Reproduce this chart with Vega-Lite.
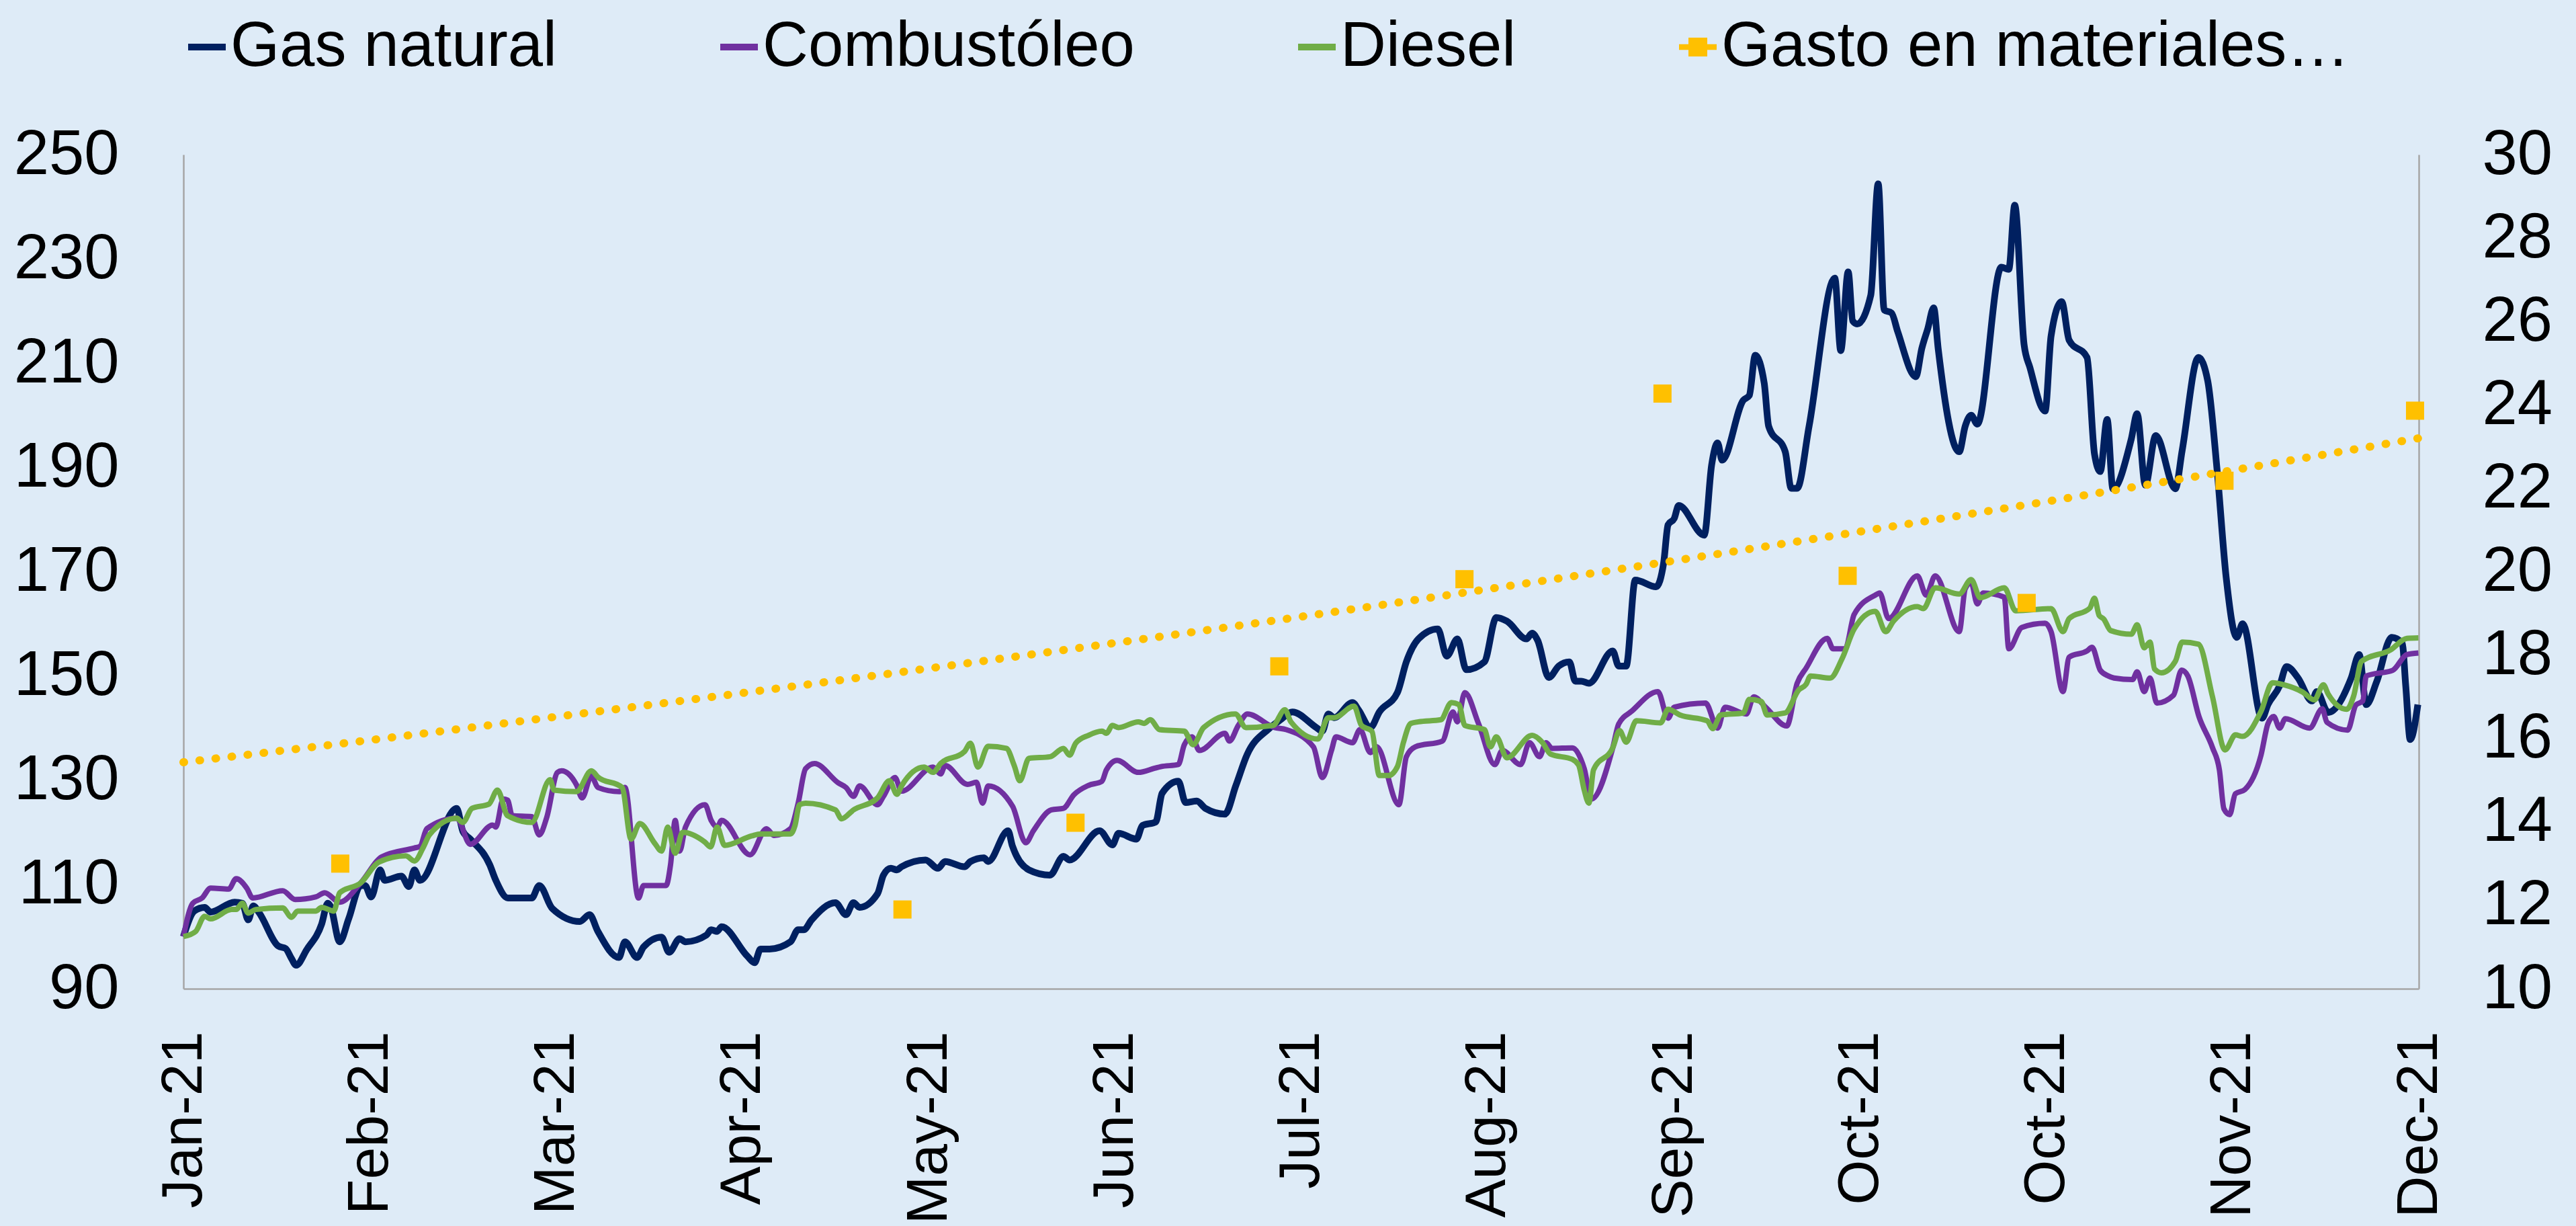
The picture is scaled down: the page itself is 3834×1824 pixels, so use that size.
{
"$schema": "https://vega.github.io/schema/vega-lite/v6.json",
"width": 3327, "height": 1241,
"autosize": {"type": "none"},
"padding": {"left": 273, "top": 230, "right": 234, "bottom": 353},
"background": "#DEEBF7",
"config": {"view": {"stroke": null}, "font": "Liberation Sans",
  "axis": {"domainColor": "#A6A6A6", "domainWidth": 2.5, "ticks": false, "tickSize": 0, "grid": false, "labelFont": "Liberation Sans", "labelFontSize": 94, "labelColor": "#000000", "labelLimit": 1000}},
"datasets": {
"lineas": [
{"serie":"Gas natural","t":0,"v":100},{"serie":"Gas natural","t":0.058,"v":104.9},{"serie":"Gas natural","t":0.114,"v":105.6},{"serie":"Gas natural","t":0.146,"v":104.7},{"serie":"Gas natural","t":0.275,"v":106.6},{"serie":"Gas natural","t":0.316,"v":106.4},{"serie":"Gas natural","t":0.348,"v":103.2},{"serie":"Gas natural","t":0.375,"v":105.9},{"serie":"Gas natural","t":0.404,"v":104.7},{"serie":"Gas natural","t":0.509,"v":98.2},{"serie":"Gas natural","t":0.549,"v":97.7},{"serie":"Gas natural","t":0.58,"v":95.8},{"serie":"Gas natural","t":0.605,"v":94.5},{"serie":"Gas natural","t":0.662,"v":97.5},{"serie":"Gas natural","t":0.742,"v":102.4},{"serie":"Gas natural","t":0.775,"v":106.4},{"serie":"Gas natural","t":0.79,"v":105.8},{"serie":"Gas natural","t":0.839,"v":99.0},{"serie":"Gas natural","t":0.887,"v":103.4},{"serie":"Gas natural","t":0.952,"v":109.8},{"serie":"Gas natural","t":0.975,"v":109.8},{"serie":"Gas natural","t":1.008,"v":107.6},{"serie":"Gas natural","t":1.056,"v":112.8},{"serie":"Gas natural","t":1.08,"v":110.8},{"serie":"Gas natural","t":1.17,"v":111.6},{"serie":"Gas natural","t":1.21,"v":109.6},{"serie":"Gas natural","t":1.24,"v":112.8},{"serie":"Gas natural","t":1.27,"v":110.8},{"serie":"Gas natural","t":1.467,"v":124.6},{"serie":"Gas natural","t":1.5,"v":120.2},{"serie":"Gas natural","t":1.54,"v":118.7},{"serie":"Gas natural","t":1.644,"v":113.8},{"serie":"Gas natural","t":1.677,"v":110.8},{"serie":"Gas natural","t":1.742,"v":107.4},{"serie":"Gas natural","t":1.87,"v":107.4},{"serie":"Gas natural","t":1.91,"v":109.8},{"serie":"Gas natural","t":1.98,"v":105.4},{"serie":"Gas natural","t":2.128,"v":102.9},{"serie":"Gas natural","t":2.18,"v":104.2},{"serie":"Gas natural","t":2.225,"v":101.0},{"serie":"Gas natural","t":2.338,"v":96.0},{"serie":"Gas natural","t":2.37,"v":99.0},{"serie":"Gas natural","t":2.435,"v":96.0},{"serie":"Gas natural","t":2.47,"v":98.0},{"serie":"Gas natural","t":2.567,"v":99.9},{"serie":"Gas natural","t":2.607,"v":97.0},{"serie":"Gas natural","t":2.664,"v":99.6},{"serie":"Gas natural","t":2.695,"v":99.0},{"serie":"Gas natural","t":2.808,"v":100.3},{"serie":"Gas natural","t":2.833,"v":101.3},{"serie":"Gas natural","t":2.865,"v":101.0},{"serie":"Gas natural","t":2.889,"v":101.9},{"serie":"Gas natural","t":3.026,"v":96.3},{"serie":"Gas natural","t":3.066,"v":95.0},{"serie":"Gas natural","t":3.098,"v":97.6},{"serie":"Gas natural","t":3.146,"v":97.6},{"serie":"Gas natural","t":3.259,"v":99.0},{"serie":"Gas natural","t":3.3,"v":101.3},{"serie":"Gas natural","t":3.33,"v":101.3},{"serie":"Gas natural","t":3.372,"v":103.2},{"serie":"Gas natural","t":3.5,"v":106.5},{"serie":"Gas natural","t":3.557,"v":104.2},{"serie":"Gas natural","t":3.597,"v":106.5},{"serie":"Gas natural","t":3.63,"v":105.6},{"serie":"Gas natural","t":3.726,"v":108.2},{"serie":"Gas natural","t":3.758,"v":111.8},{"serie":"Gas natural","t":3.798,"v":113.1},{"serie":"Gas natural","t":3.83,"v":112.8},{"serie":"Gas natural","t":3.855,"v":113.4},{"serie":"Gas natural","t":3.984,"v":114.7},{"serie":"Gas natural","t":4.05,"v":113.1},{"serie":"Gas natural","t":4.089,"v":114.4},{"serie":"Gas natural","t":4.193,"v":113.4},{"serie":"Gas natural","t":4.225,"v":114.4},{"serie":"Gas natural","t":4.297,"v":115.1},{"serie":"Gas natural","t":4.32,"v":114.4},{"serie":"Gas natural","t":4.427,"v":120.3},{"serie":"Gas natural","t":4.45,"v":117.4},{"serie":"Gas natural","t":4.539,"v":112.8},{"serie":"Gas natural","t":4.652,"v":111.8},{"serie":"Gas natural","t":4.724,"v":115.4},{"serie":"Gas natural","t":4.757,"v":114.7},{"serie":"Gas natural","t":4.918,"v":120.3},{"serie":"Gas natural","t":4.987,"v":117.6},{"serie":"Gas natural","t":5.02,"v":119.8},{"serie":"Gas natural","t":5.116,"v":118.7},{"serie":"Gas natural","t":5.148,"v":121.3},{"serie":"Gas natural","t":5.22,"v":122.0},{"serie":"Gas natural","t":5.254,"v":127.5},{"serie":"Gas natural","t":5.341,"v":129.8},{"serie":"Gas natural","t":5.38,"v":125.7},{"serie":"Gas natural","t":5.44,"v":126.0},{"serie":"Gas natural","t":5.486,"v":124.6},{"serie":"Gas natural","t":5.591,"v":123.5},{"serie":"Gas natural","t":5.65,"v":129.0},{"serie":"Gas natural","t":5.71,"v":134.9},{"serie":"Gas natural","t":5.825,"v":139.8},{"serie":"Gas natural","t":5.89,"v":141.6},{"serie":"Gas natural","t":5.953,"v":143.1},{"serie":"Gas natural","t":6.082,"v":140.1},{"serie":"Gas natural","t":6.114,"v":139.4},{"serie":"Gas natural","t":6.146,"v":142.7},{"serie":"Gas natural","t":6.178,"v":142.0},{"serie":"Gas natural","t":6.276,"v":144.9},{"serie":"Gas natural","t":6.308,"v":143.5},{"serie":"Gas natural","t":6.372,"v":140.1},{"serie":"Gas natural","t":6.42,"v":143.1},{"serie":"Gas natural","t":6.517,"v":146.8},{"serie":"Gas natural","t":6.565,"v":152.7},{"serie":"Gas natural","t":6.63,"v":157.1},{"serie":"Gas natural","t":6.734,"v":159.0},{"serie":"Gas natural","t":6.782,"v":153.8},{"serie":"Gas natural","t":6.839,"v":157.1},{"serie":"Gas natural","t":6.887,"v":151.2},{"serie":"Gas natural","t":6.984,"v":152.7},{"serie":"Gas natural","t":7.048,"v":161.2},{"serie":"Gas natural","t":7.105,"v":160.5},{"serie":"Gas natural","t":7.21,"v":157.1},{"serie":"Gas natural","t":7.24,"v":158.2},{"serie":"Gas natural","t":7.27,"v":156.8},{"serie":"Gas natural","t":7.33,"v":149.7},{"serie":"Gas natural","t":7.383,"v":151.9},{"serie":"Gas natural","t":7.44,"v":152.7},{"serie":"Gas natural","t":7.472,"v":149.0},{"serie":"Gas natural","t":7.504,"v":149.0},{"serie":"Gas natural","t":7.545,"v":148.6},{"serie":"Gas natural","t":7.673,"v":154.8},{"serie":"Gas natural","t":7.705,"v":151.9},{"serie":"Gas natural","t":7.745,"v":151.9},{"serie":"Gas natural","t":7.794,"v":168.4},{"serie":"Gas natural","t":7.906,"v":167.1},{"serie":"Gas natural","t":7.946,"v":171.6},{"serie":"Gas natural","t":7.97,"v":179.0},{"serie":"Gas natural","t":8.003,"v":180.2},{"serie":"Gas natural","t":8.027,"v":182.7},{"serie":"Gas natural","t":8.164,"v":177.0},{"serie":"Gas natural","t":8.204,"v":190.5},{"serie":"Gas natural","t":8.236,"v":194.7},{"serie":"Gas natural","t":8.26,"v":191.4},{"serie":"Gas natural","t":8.374,"v":202.9},{"serie":"Gas natural","t":8.406,"v":203.8},{"serie":"Gas natural","t":8.438,"v":211.5},{"serie":"Gas natural","t":8.486,"v":206.2},{"serie":"Gas natural","t":8.51,"v":197.9},{"serie":"Gas natural","t":8.599,"v":193.0},{"serie":"Gas natural","t":8.631,"v":186.0},{"serie":"Gas natural","t":8.663,"v":186.0},{"serie":"Gas natural","t":8.727,"v":197.9},{"serie":"Gas natural","t":8.865,"v":226.3},{"serie":"Gas natural","t":8.897,"v":212.4},{"serie":"Gas natural","t":8.937,"v":227.5},{"serie":"Gas natural","t":8.961,"v":218.1},{"serie":"Gas natural","t":8.985,"v":217.5},{"serie":"Gas natural","t":9.058,"v":223.0},{"serie":"Gas natural","t":9.098,"v":244.4},{"serie":"Gas natural","t":9.13,"v":220.2},{"serie":"Gas natural","t":9.17,"v":219.6},{"serie":"Gas natural","t":9.203,"v":216.0},{"serie":"Gas natural","t":9.3,"v":207.4},{"serie":"Gas natural","t":9.332,"v":212.8},{"serie":"Gas natural","t":9.364,"v":216.6},{"serie":"Gas natural","t":9.396,"v":220.6},{"serie":"Gas natural","t":9.42,"v":212.8},{"serie":"Gas natural","t":9.533,"v":193.0},{"serie":"Gas natural","t":9.565,"v":197.9},{"serie":"Gas natural","t":9.597,"v":200.0},{"serie":"Gas natural","t":9.63,"v":198.3},{"serie":"Gas natural","t":9.759,"v":228.4},{"serie":"Gas natural","t":9.799,"v":228.0},{"serie":"Gas natural","t":9.831,"v":240.3},{"serie":"Gas natural","t":9.881,"v":213.6},{"serie":"Gas natural","t":9.913,"v":209.1},{"serie":"Gas natural","t":9.994,"v":200.8},{"serie":"Gas natural","t":10.026,"v":215.2},{"serie":"Gas natural","t":10.083,"v":221.8},{"serie":"Gas natural","t":10.123,"v":214.4},{"serie":"Gas natural","t":10.219,"v":211.1},{"serie":"Gas natural","t":10.259,"v":192.6},{"serie":"Gas natural","t":10.29,"v":189.2},{"serie":"Gas natural","t":10.327,"v":199.2},{"serie":"Gas natural","t":10.358,"v":185.9},{"serie":"Gas natural","t":10.457,"v":195.5},{"serie":"Gas natural","t":10.488,"v":200.3},{"serie":"Gas natural","t":10.532,"v":186.6},{"serie":"Gas natural","t":10.588,"v":196.1},{"serie":"Gas natural","t":10.693,"v":185.9},{"serie":"Gas natural","t":10.73,"v":193.3},{"serie":"Gas natural","t":10.817,"v":211.1},{"serie":"Gas natural","t":10.867,"v":206.6},{"serie":"Gas natural","t":10.917,"v":189.6},{"serie":"Gas natural","t":10.966,"v":168.9},{"serie":"Gas natural","t":11.023,"v":157.4},{"serie":"Gas natural","t":11.054,"v":160.0},{"serie":"Gas natural","t":11.159,"v":141.9},{"serie":"Gas natural","t":11.19,"v":144.5},{"serie":"Gas natural","t":11.253,"v":148.1},{"serie":"Gas natural","t":11.29,"v":151.8},{"serie":"Gas natural","t":11.352,"v":149.6},{"serie":"Gas natural","t":11.427,"v":145.2},{"serie":"Gas natural","t":11.452,"v":147.0},{"serie":"Gas natural","t":11.514,"v":143.0},{"serie":"Gas natural","t":11.637,"v":149.6},{"serie":"Gas natural","t":11.68,"v":154.1},{"serie":"Gas natural","t":11.718,"v":144.5},{"serie":"Gas natural","t":11.774,"v":148.9},{"serie":"Gas natural","t":11.855,"v":157.4},{"serie":"Gas natural","t":11.911,"v":156.3},{"serie":"Gas natural","t":11.93,"v":148.1},{"serie":"Gas natural","t":11.954,"v":137.8},{"serie":"Gas natural","t":11.995,"v":144.5},
{"serie":"Combustóleo","t":0,"v":100},{"serie":"Combustóleo","t":0.05,"v":106.4},{"serie":"Combustóleo","t":0.1,"v":107.4},{"serie":"Combustóleo","t":0.146,"v":109.3},{"serie":"Combustóleo","t":0.243,"v":109.1},{"serie":"Combustóleo","t":0.283,"v":111.1},{"serie":"Combustóleo","t":0.34,"v":109.3},{"serie":"Combustóleo","t":0.372,"v":107.4},{"serie":"Combustóleo","t":0.533,"v":108.8},{"serie":"Combustóleo","t":0.6,"v":107.1},{"serie":"Combustóleo","t":0.71,"v":107.6},{"serie":"Combustóleo","t":0.758,"v":108.4},{"serie":"Combustóleo","t":0.839,"v":106.6},{"serie":"Combustóleo","t":0.952,"v":110.3},{"serie":"Combustóleo","t":1.065,"v":115.3},{"serie":"Combustóleo","t":1.24,"v":117.0},{"serie":"Combustóleo","t":1.27,"v":117.3},{"serie":"Combustóleo","t":1.307,"v":120.7},{"serie":"Combustóleo","t":1.467,"v":122.7},{"serie":"Combustóleo","t":1.54,"v":117.7},{"serie":"Combustóleo","t":1.66,"v":121.4},{"serie":"Combustóleo","t":1.677,"v":121.0},{"serie":"Combustóleo","t":1.717,"v":126.4},{"serie":"Combustóleo","t":1.74,"v":126.2},{"serie":"Combustóleo","t":1.765,"v":123.2},{"serie":"Combustóleo","t":1.87,"v":123.0},{"serie":"Combustóleo","t":1.91,"v":119.5},{"serie":"Combustóleo","t":1.95,"v":122.8},{"serie":"Combustóleo","t":2.008,"v":131.5},{"serie":"Combustóleo","t":2.03,"v":131.8},{"serie":"Combustóleo","t":2.11,"v":129.1},{"serie":"Combustóleo","t":2.14,"v":126.6},{"serie":"Combustóleo","t":2.19,"v":130.8},{"serie":"Combustóleo","t":2.225,"v":128.6},{"serie":"Combustóleo","t":2.34,"v":127.8},{"serie":"Combustóleo","t":2.37,"v":128.6},{"serie":"Combustóleo","t":2.443,"v":107.4},{"serie":"Combustóleo","t":2.47,"v":109.8},{"serie":"Combustóleo","t":2.591,"v":109.8},{"serie":"Combustóleo","t":2.615,"v":113.8},{"serie":"Combustóleo","t":2.64,"v":122.3},{"serie":"Combustóleo","t":2.664,"v":116.4},{"serie":"Combustóleo","t":2.695,"v":121.0},{"serie":"Combustóleo","t":2.8,"v":125.3},{"serie":"Combustóleo","t":2.833,"v":122.3},{"serie":"Combustóleo","t":2.865,"v":121.0},{"serie":"Combustóleo","t":2.889,"v":122.3},{"serie":"Combustóleo","t":3.042,"v":115.7},{"serie":"Combustóleo","t":3.13,"v":120.7},{"serie":"Combustóleo","t":3.17,"v":119.4},{"serie":"Combustóleo","t":3.259,"v":120.7},{"serie":"Combustóleo","t":3.3,"v":125.6},{"serie":"Combustóleo","t":3.34,"v":132.2},{"serie":"Combustóleo","t":3.388,"v":133.2},{"serie":"Combustóleo","t":3.515,"v":129.5},{"serie":"Combustóleo","t":3.557,"v":128.6},{"serie":"Combustóleo","t":3.597,"v":126.9},{"serie":"Combustóleo","t":3.63,"v":128.9},{"serie":"Combustóleo","t":3.726,"v":125.3},{"serie":"Combustóleo","t":3.758,"v":126.9},{"serie":"Combustóleo","t":3.82,"v":130.5},{"serie":"Combustóleo","t":3.855,"v":127.9},{"serie":"Combustóleo","t":4.024,"v":132.5},{"serie":"Combustóleo","t":4.065,"v":131.2},{"serie":"Combustóleo","t":4.089,"v":132.8},{"serie":"Combustóleo","t":4.209,"v":129.2},{"serie":"Combustóleo","t":4.257,"v":129.6},{"serie":"Combustóleo","t":4.29,"v":125.6},{"serie":"Combustóleo","t":4.32,"v":128.9},{"serie":"Combustóleo","t":4.451,"v":125.0},{"serie":"Combustóleo","t":4.522,"v":118.0},{"serie":"Combustóleo","t":4.563,"v":120.3},{"serie":"Combustóleo","t":4.659,"v":124.3},{"serie":"Combustóleo","t":4.724,"v":124.6},{"serie":"Combustóleo","t":4.78,"v":127.2},{"serie":"Combustóleo","t":4.858,"v":129.0},{"serie":"Combustóleo","t":4.931,"v":129.8},{"serie":"Combustóleo","t":4.955,"v":132.0},{"serie":"Combustóleo","t":5.012,"v":133.8},{"serie":"Combustóleo","t":5.126,"v":131.5},{"serie":"Combustóleo","t":5.214,"v":132.3},{"serie":"Combustóleo","t":5.247,"v":132.6},{"serie":"Combustóleo","t":5.341,"v":133.0},{"serie":"Combustóleo","t":5.373,"v":136.8},{"serie":"Combustóleo","t":5.414,"v":138.3},{"serie":"Combustóleo","t":5.454,"v":135.7},{"serie":"Combustóleo","t":5.591,"v":139.0},{"serie":"Combustóleo","t":5.615,"v":137.5},{"serie":"Combustóleo","t":5.663,"v":140.5},{"serie":"Combustóleo","t":5.712,"v":142.7},{"serie":"Combustóleo","t":5.857,"v":140.1},{"serie":"Combustóleo","t":5.92,"v":139.7},{"serie":"Combustóleo","t":6.066,"v":136.4},{"serie":"Combustóleo","t":6.114,"v":130.5},{"serie":"Combustóleo","t":6.163,"v":135.7},{"serie":"Combustóleo","t":6.187,"v":138.3},{"serie":"Combustóleo","t":6.276,"v":137.2},{"serie":"Combustóleo","t":6.316,"v":139.7},{"serie":"Combustóleo","t":6.372,"v":135.3},{"serie":"Combustóleo","t":6.405,"v":136.4},{"serie":"Combustóleo","t":6.525,"v":125.3},{"serie":"Combustóleo","t":6.565,"v":134.5},{"serie":"Combustóleo","t":6.613,"v":136.4},{"serie":"Combustóleo","t":6.758,"v":137.5},{"serie":"Combustóleo","t":6.815,"v":143.1},{"serie":"Combustóleo","t":6.839,"v":141.2},{"serie":"Combustóleo","t":6.879,"v":146.8},{"serie":"Combustóleo","t":6.952,"v":140.9},{"serie":"Combustóleo","t":7.04,"v":133.0},{"serie":"Combustóleo","t":7.08,"v":135.7},{"serie":"Combustóleo","t":7.178,"v":133.0},{"serie":"Combustóleo","t":7.226,"v":137.2},{"serie":"Combustóleo","t":7.28,"v":134.5},{"serie":"Combustóleo","t":7.315,"v":137.2},{"serie":"Combustóleo","t":7.347,"v":136.1},{"serie":"Combustóleo","t":7.456,"v":136.2},{"serie":"Combustóleo","t":7.52,"v":132.2},{"serie":"Combustóleo","t":7.559,"v":126.4},{"serie":"Combustóleo","t":7.673,"v":136.2},{"serie":"Combustóleo","t":7.705,"v":140.8},{"serie":"Combustóleo","t":7.777,"v":143.3},{"serie":"Combustóleo","t":7.915,"v":147.0},{"serie":"Combustóleo","t":7.97,"v":141.9},{"serie":"Combustóleo","t":8.003,"v":144.0},{"serie":"Combustóleo","t":8.171,"v":144.8},{"serie":"Combustóleo","t":8.236,"v":140.0},{"serie":"Combustóleo","t":8.276,"v":144.0},{"serie":"Combustóleo","t":8.39,"v":142.7},{"serie":"Combustóleo","t":8.43,"v":146.0},{"serie":"Combustóleo","t":8.494,"v":144.0},{"serie":"Combustóleo","t":8.607,"v":140.4},{"serie":"Combustóleo","t":8.663,"v":148.6},{"serie":"Combustóleo","t":8.711,"v":151.5},{"serie":"Combustóleo","t":8.824,"v":157.2},{"serie":"Combustóleo","t":8.856,"v":155.2},{"serie":"Combustóleo","t":8.921,"v":155.2},{"serie":"Combustóleo","t":8.969,"v":161.8},{"serie":"Combustóleo","t":9.082,"v":165.5},{"serie":"Combustóleo","t":9.106,"v":165.9},{"serie":"Combustóleo","t":9.154,"v":161.0},{"serie":"Combustóleo","t":9.308,"v":169.2},{"serie":"Combustóleo","t":9.356,"v":165.5},{"serie":"Combustóleo","t":9.404,"v":169.2},{"serie":"Combustóleo","t":9.533,"v":158.5},{"serie":"Combustóleo","t":9.565,"v":166.7},{"serie":"Combustóleo","t":9.597,"v":167.9},{"serie":"Combustóleo","t":9.63,"v":163.8},{"serie":"Combustóleo","t":9.662,"v":165.9},{"serie":"Combustóleo","t":9.775,"v":165.1},{"serie":"Combustóleo","t":9.799,"v":155.2},{"serie":"Combustóleo","t":9.869,"v":159.3},{"serie":"Combustóleo","t":9.994,"v":160.1},{"serie":"Combustóleo","t":10.026,"v":158.5},{"serie":"Combustóleo","t":10.09,"v":147.0},{"serie":"Combustóleo","t":10.123,"v":153.6},{"serie":"Combustóleo","t":10.219,"v":154.8},{"serie":"Combustóleo","t":10.246,"v":155.5},{"serie":"Combustóleo","t":10.29,"v":151.1},{"serie":"Combustóleo","t":10.333,"v":150.0},{"serie":"Combustóleo","t":10.364,"v":149.6},{"serie":"Combustóleo","t":10.464,"v":149.3},{"serie":"Combustóleo","t":10.488,"v":150.8},{"serie":"Combustóleo","t":10.526,"v":147.0},{"serie":"Combustóleo","t":10.557,"v":149.6},{"serie":"Combustóleo","t":10.594,"v":144.8},{"serie":"Combustóleo","t":10.683,"v":146.3},{"serie":"Combustóleo","t":10.727,"v":151.1},{"serie":"Combustóleo","t":10.76,"v":150.0},{"serie":"Combustóleo","t":10.82,"v":142.2},{"serie":"Combustóleo","t":10.892,"v":136.3},{"serie":"Combustóleo","t":10.93,"v":131.9},{"serie":"Combustóleo","t":10.954,"v":124.5},{"serie":"Combustóleo","t":10.985,"v":123.4},{"serie":"Combustóleo","t":11.015,"v":127.4},{"serie":"Combustóleo","t":11.066,"v":128.2},{"serie":"Combustóleo","t":11.153,"v":134.8},{"serie":"Combustóleo","t":11.19,"v":140.8},{"serie":"Combustóleo","t":11.221,"v":142.2},{"serie":"Combustóleo","t":11.253,"v":140.0},{"serie":"Combustóleo","t":11.284,"v":141.8},{"serie":"Combustóleo","t":11.414,"v":140.0},{"serie":"Combustóleo","t":11.482,"v":143.7},{"serie":"Combustóleo","t":11.507,"v":141.1},{"serie":"Combustóleo","t":11.618,"v":139.6},{"serie":"Combustóleo","t":11.662,"v":144.4},{"serie":"Combustóleo","t":11.699,"v":145.2},{"serie":"Combustóleo","t":11.718,"v":150.0},{"serie":"Combustóleo","t":11.861,"v":151.1},{"serie":"Combustóleo","t":11.936,"v":154.1},{"serie":"Combustóleo","t":11.998,"v":154.4},
{"serie":"Diesel","t":0,"v":100},{"serie":"Diesel","t":0.066,"v":101.0},{"serie":"Diesel","t":0.114,"v":103.9},{"serie":"Diesel","t":0.146,"v":103.4},{"serie":"Diesel","t":0.259,"v":105.2},{"serie":"Diesel","t":0.283,"v":105.2},{"serie":"Diesel","t":0.316,"v":106.4},{"serie":"Diesel","t":0.348,"v":104.5},{"serie":"Diesel","t":0.388,"v":105.2},{"serie":"Diesel","t":0.533,"v":105.5},{"serie":"Diesel","t":0.58,"v":103.7},{"serie":"Diesel","t":0.613,"v":104.9},{"serie":"Diesel","t":0.71,"v":104.9},{"serie":"Diesel","t":0.742,"v":105.6},{"serie":"Diesel","t":0.807,"v":104.9},{"serie":"Diesel","t":0.839,"v":108.4},{"serie":"Diesel","t":0.952,"v":110.3},{"serie":"Diesel","t":1.049,"v":114.3},{"serie":"Diesel","t":1.194,"v":115.5},{"serie":"Diesel","t":1.24,"v":114.5},{"serie":"Diesel","t":1.29,"v":117.3},{"serie":"Diesel","t":1.32,"v":119.5},{"serie":"Diesel","t":1.467,"v":122.7},{"serie":"Diesel","t":1.5,"v":121.9},{"serie":"Diesel","t":1.549,"v":124.6},{"serie":"Diesel","t":1.64,"v":125.4},{"serie":"Diesel","t":1.686,"v":128.1},{"serie":"Diesel","t":1.74,"v":123.2},{"serie":"Diesel","t":1.87,"v":121.9},{"serie":"Diesel","t":1.968,"v":130.1},{"serie":"Diesel","t":1.99,"v":128.1},{"serie":"Diesel","t":2.11,"v":127.8},{"serie":"Diesel","t":2.19,"v":131.8},{"serie":"Diesel","t":2.225,"v":130.6},{"serie":"Diesel","t":2.355,"v":128.6},{"serie":"Diesel","t":2.403,"v":118.7},{"serie":"Diesel","t":2.45,"v":121.7},{"serie":"Diesel","t":2.53,"v":117.9},{"serie":"Diesel","t":2.567,"v":116.4},{"serie":"Diesel","t":2.6,"v":121.0},{"serie":"Diesel","t":2.64,"v":116.0},{"serie":"Diesel","t":2.68,"v":120.0},{"serie":"Diesel","t":2.8,"v":118.1},{"serie":"Diesel","t":2.83,"v":117.2},{"serie":"Diesel","t":2.865,"v":121.0},{"serie":"Diesel","t":2.905,"v":117.5},{"serie":"Diesel","t":3.05,"v":119.3},{"serie":"Diesel","t":3.098,"v":119.7},{"serie":"Diesel","t":3.259,"v":119.7},{"serie":"Diesel","t":3.283,"v":121.3},{"serie":"Diesel","t":3.307,"v":125.3},{"serie":"Diesel","t":3.34,"v":125.6},{"serie":"Diesel","t":3.5,"v":124.3},{"serie":"Diesel","t":3.533,"v":122.6},{"serie":"Diesel","t":3.597,"v":124.3},{"serie":"Diesel","t":3.726,"v":126.6},{"serie":"Diesel","t":3.79,"v":129.9},{"serie":"Diesel","t":3.83,"v":127.3},{"serie":"Diesel","t":3.855,"v":128.9},{"serie":"Diesel","t":3.976,"v":132.5},{"serie":"Diesel","t":4.024,"v":131.5},{"serie":"Diesel","t":4.065,"v":133.2},{"serie":"Diesel","t":4.193,"v":135.5},{"serie":"Diesel","t":4.225,"v":137.1},{"serie":"Diesel","t":4.265,"v":132.5},{"serie":"Diesel","t":4.32,"v":136.5},{"serie":"Diesel","t":4.418,"v":136.1},{"serie":"Diesel","t":4.46,"v":132.8},{"serie":"Diesel","t":4.49,"v":129.9},{"serie":"Diesel","t":4.539,"v":134.2},{"serie":"Diesel","t":4.652,"v":134.5},{"serie":"Diesel","t":4.724,"v":136.1},{"serie":"Diesel","t":4.757,"v":134.8},{"serie":"Diesel","t":4.79,"v":137.1},{"serie":"Diesel","t":4.858,"v":138.6},{"serie":"Diesel","t":4.931,"v":139.4},{"serie":"Diesel","t":4.955,"v":139.0},{"serie":"Diesel","t":4.987,"v":140.5},{"serie":"Diesel","t":5.02,"v":140.1},{"serie":"Diesel","t":5.126,"v":141.2},{"serie":"Diesel","t":5.157,"v":140.9},{"serie":"Diesel","t":5.19,"v":141.6},{"serie":"Diesel","t":5.24,"v":139.7},{"serie":"Diesel","t":5.373,"v":139.4},{"serie":"Diesel","t":5.42,"v":136.8},{"serie":"Diesel","t":5.477,"v":140.1},{"serie":"Diesel","t":5.647,"v":142.7},{"serie":"Diesel","t":5.704,"v":140.1},{"serie":"Diesel","t":5.849,"v":140.5},{"serie":"Diesel","t":5.913,"v":143.5},{"serie":"Diesel","t":5.945,"v":141.2},{"serie":"Diesel","t":6.09,"v":137.9},{"serie":"Diesel","t":6.146,"v":142.0},{"serie":"Diesel","t":6.178,"v":142.0},{"serie":"Diesel","t":6.284,"v":144.2},{"serie":"Diesel","t":6.324,"v":140.5},{"serie":"Diesel","t":6.38,"v":139.4},{"serie":"Diesel","t":6.42,"v":130.9},{"serie":"Diesel","t":6.469,"v":130.9},{"serie":"Diesel","t":6.517,"v":132.6},{"serie":"Diesel","t":6.549,"v":137.2},{"serie":"Diesel","t":6.589,"v":140.9},{"serie":"Diesel","t":6.63,"v":141.2},{"serie":"Diesel","t":6.75,"v":141.6},{"serie":"Diesel","t":6.807,"v":144.9},{"serie":"Diesel","t":6.847,"v":144.5},{"serie":"Diesel","t":6.879,"v":140.5},{"serie":"Diesel","t":6.984,"v":139.7},{"serie":"Diesel","t":7.016,"v":136.4},{"serie":"Diesel","t":7.048,"v":138.3},{"serie":"Diesel","t":7.105,"v":134.3},{"serie":"Diesel","t":7.24,"v":138.6},{"serie":"Diesel","t":7.296,"v":137.2},{"serie":"Diesel","t":7.339,"v":135.0},{"serie":"Diesel","t":7.456,"v":134.0},{"serie":"Diesel","t":7.49,"v":132.9},{"serie":"Diesel","t":7.52,"v":128.1},{"serie":"Diesel","t":7.545,"v":125.6},{"serie":"Diesel","t":7.57,"v":132.0},{"serie":"Diesel","t":7.673,"v":136.2},{"serie":"Diesel","t":7.71,"v":139.5},{"serie":"Diesel","t":7.745,"v":137.3},{"serie":"Diesel","t":7.8,"v":141.4},{"serie":"Diesel","t":7.93,"v":141.0},{"serie":"Diesel","t":7.97,"v":143.6},{"serie":"Diesel","t":8.034,"v":142.5},{"serie":"Diesel","t":8.18,"v":141.4},{"serie":"Diesel","t":8.21,"v":139.9},{"serie":"Diesel","t":8.252,"v":142.5},{"serie":"Diesel","t":8.374,"v":142.9},{"serie":"Diesel","t":8.406,"v":145.5},{"serie":"Diesel","t":8.47,"v":145.1},{"serie":"Diesel","t":8.502,"v":142.5},{"serie":"Diesel","t":8.599,"v":142.9},{"serie":"Diesel","t":8.671,"v":147.3},{"serie":"Diesel","t":8.711,"v":148.4},{"serie":"Diesel","t":8.735,"v":150.0},{"serie":"Diesel","t":8.84,"v":149.6},{"serie":"Diesel","t":8.904,"v":153.3},{"serie":"Diesel","t":8.969,"v":159.0},{"serie":"Diesel","t":9.082,"v":162.4},{"serie":"Diesel","t":9.138,"v":158.5},{"serie":"Diesel","t":9.18,"v":160.5},{"serie":"Diesel","t":9.308,"v":163.3},{"serie":"Diesel","t":9.34,"v":162.9},{"serie":"Diesel","t":9.404,"v":166.9},{"serie":"Diesel","t":9.533,"v":165.7},{"serie":"Diesel","t":9.597,"v":168.5},{"serie":"Diesel","t":9.646,"v":165.0},{"serie":"Diesel","t":9.775,"v":166.9},{"serie":"Diesel","t":9.836,"v":162.5},{"serie":"Diesel","t":10.026,"v":162.9},{"serie":"Diesel","t":10.09,"v":158.5},{"serie":"Diesel","t":10.123,"v":161.0},{"serie":"Diesel","t":10.234,"v":163.0},{"serie":"Diesel","t":10.259,"v":164.9},{"serie":"Diesel","t":10.284,"v":161.6},{"serie":"Diesel","t":10.309,"v":160.9},{"serie":"Diesel","t":10.346,"v":158.7},{"serie":"Diesel","t":10.457,"v":158.0},{"serie":"Diesel","t":10.488,"v":159.8},{"serie":"Diesel","t":10.526,"v":155.4},{"serie":"Diesel","t":10.557,"v":156.5},{"serie":"Diesel","t":10.582,"v":151.3},{"serie":"Diesel","t":10.619,"v":150.6},{"serie":"Diesel","t":10.693,"v":152.8},{"serie":"Diesel","t":10.73,"v":156.5},{"serie":"Diesel","t":10.817,"v":156.1},{"serie":"Diesel","t":10.892,"v":146.1},{"serie":"Diesel","t":10.96,"v":135.8},{"serie":"Diesel","t":11.016,"v":138.7},{"serie":"Diesel","t":11.054,"v":138.4},{"serie":"Diesel","t":11.153,"v":143.2},{"serie":"Diesel","t":11.215,"v":148.7},{"serie":"Diesel","t":11.277,"v":148.3},{"serie":"Diesel","t":11.377,"v":146.9},{"serie":"Diesel","t":11.439,"v":145.4},{"serie":"Diesel","t":11.488,"v":148.3},{"serie":"Diesel","t":11.514,"v":146.5},{"serie":"Diesel","t":11.613,"v":143.6},{"serie":"Diesel","t":11.65,"v":146.1},{"serie":"Diesel","t":11.693,"v":152.8},{"serie":"Diesel","t":11.849,"v":155.0},{"serie":"Diesel","t":11.936,"v":157.2},{"serie":"Diesel","t":11.998,"v":157.3}
],
"gasto": [
{"serie":"Gasto en materiales…","t":0.842,"v":13.0},{"serie":"Gasto en materiales…","t":3.86,"v":11.9},{"serie":"Gasto en materiales…","t":4.789,"v":13.98},{"serie":"Gasto en materiales…","t":5.883,"v":17.73},{"serie":"Gasto en materiales…","t":6.877,"v":19.82},{"serie":"Gasto en materiales…","t":7.94,"v":24.27},{"serie":"Gasto en materiales…","t":8.934,"v":19.9},{"serie":"Gasto en materiales…","t":9.895,"v":19.25},{"serie":"Gasto en materiales…","t":10.957,"v":22.18},{"serie":"Gasto en materiales…","t":11.98,"v":23.86}
],
"tendencia": [
{"t":0,"v":15.43},{"t":1,"v":15.96},{"t":2,"v":16.52},{"t":3,"v":17.09},{"t":4,"v":17.68},{"t":5,"v":18.29},{"t":6,"v":18.92},{"t":7,"v":19.58},{"t":8,"v":20.26},{"t":9,"v":20.96},{"t":10,"v":21.68},{"t":11,"v":22.43},{"t":12,"v":23.2}
]
},
"layer": [
{
 "data": {"name": "lineas"},
 "encoding": {
  "x": {"field": "t", "type": "quantitative", "title": null,
    "scale": {"domain": [0, 12], "nice": false, "zero": false},
    "axis": {"values": [0,1,2,3,4,5,6,7,8,9,10,11,12], "labelAngle": 270, "labelPadding": 63, "labelFontSize": 86, "labelOverlap": false, "labelFlush": false, "labelBound": false, "labelLimit": 1000,
      "labelExpr": "['Jan-21','Feb-21','Mar-21','Apr-21','May-21','Jun-21','Jul-21','Aug-21','Sep-21','Oct-21','Oct-21','Nov-21','Dec-21'][datum.value]"}},
  "y": {"field": "v", "type": "quantitative", "title": null,
    "scale": {"domain": [90, 250], "nice": false, "zero": false},
    "axis": {"orient": "left", "values": [90,110,130,150,170,190,210,230,250], "labelPadding": 96, "labelFlush": false, "labelBound": false}},
  "color": {"field": "serie", "type": "nominal",
    "scale": {"domain": ["Gas natural", "Combustóleo", "Diesel", "Gasto en materiales…"], "range": ["#002060", "#7030A0", "#70AD47", "#FFC000"]},
    "legend": {"orient": "none", "legendX": -12, "legendY": -207, "direction": "horizontal", "columns": 4, "title": null, "padding": 0,
      "symbolType": "stroke", "symbolSize": 3136, "symbolStrokeWidth": 10, "labelFont": "Liberation Sans", "labelFontSize": 94, "labelColor": "#000000",
      "labelOffset": -12, "columnPadding": 223, "labelLimit": 3000,
      "encode": {"symbols": {"update": {
        "shape": {"signal": "datum.value === 'Gasto en materiales…' ? 'M-1,-0.15H1V0.15H-1Z M-0.5,-0.5H0.5V0.5H-0.5Z' : 'stroke'"},
        "fill": {"signal": "datum.value === 'Gasto en materiales…' ? '#FFC000' : 'transparent'"},
        "strokeWidth": {"signal": "datum.value === 'Gasto en materiales…' ? 0 : 10"}}}}}}
 },
 "layer": [
  {"transform": [{"filter": "datum.serie === 'Gas natural'"}], "mark": {"type": "line", "strokeWidth": 10, "interpolate": "monotone"}},
  {"transform": [{"filter": "datum.serie === 'Combustóleo'"}], "mark": {"type": "line", "strokeWidth": 8, "interpolate": "monotone"}},
  {"transform": [{"filter": "datum.serie === 'Diesel'"}], "mark": {"type": "line", "strokeWidth": 8, "interpolate": "monotone"}}
 ]
},
{
 "encoding": {
  "x": {"field": "t", "type": "quantitative", "title": null, "scale": {"domain": [0, 12], "nice": false, "zero": false}},
  "y": {"field": "v", "type": "quantitative", "title": null,
    "scale": {"domain": [10, 30], "nice": false, "zero": false},
    "axis": {"orient": "right", "values": [10,12,14,16,18,20,22,24,26,28,30], "labelPadding": 94, "labelFlush": false, "labelBound": false}}
 },
 "layer": [
  {"data": {"name": "tendencia"}, "mark": {"type": "line", "color": "#FFC000", "strokeWidth": 12, "strokeDash": [1, 23], "strokeCap": "round", "interpolate": "monotone"}},
  {"data": {"name": "gasto"}, "mark": {"type": "square", "size": 729, "color": "#FFC000", "opacity": 1, "filled": true}}
 ]
}
],
"resolve": {"scale": {"y": "independent"}}
}
